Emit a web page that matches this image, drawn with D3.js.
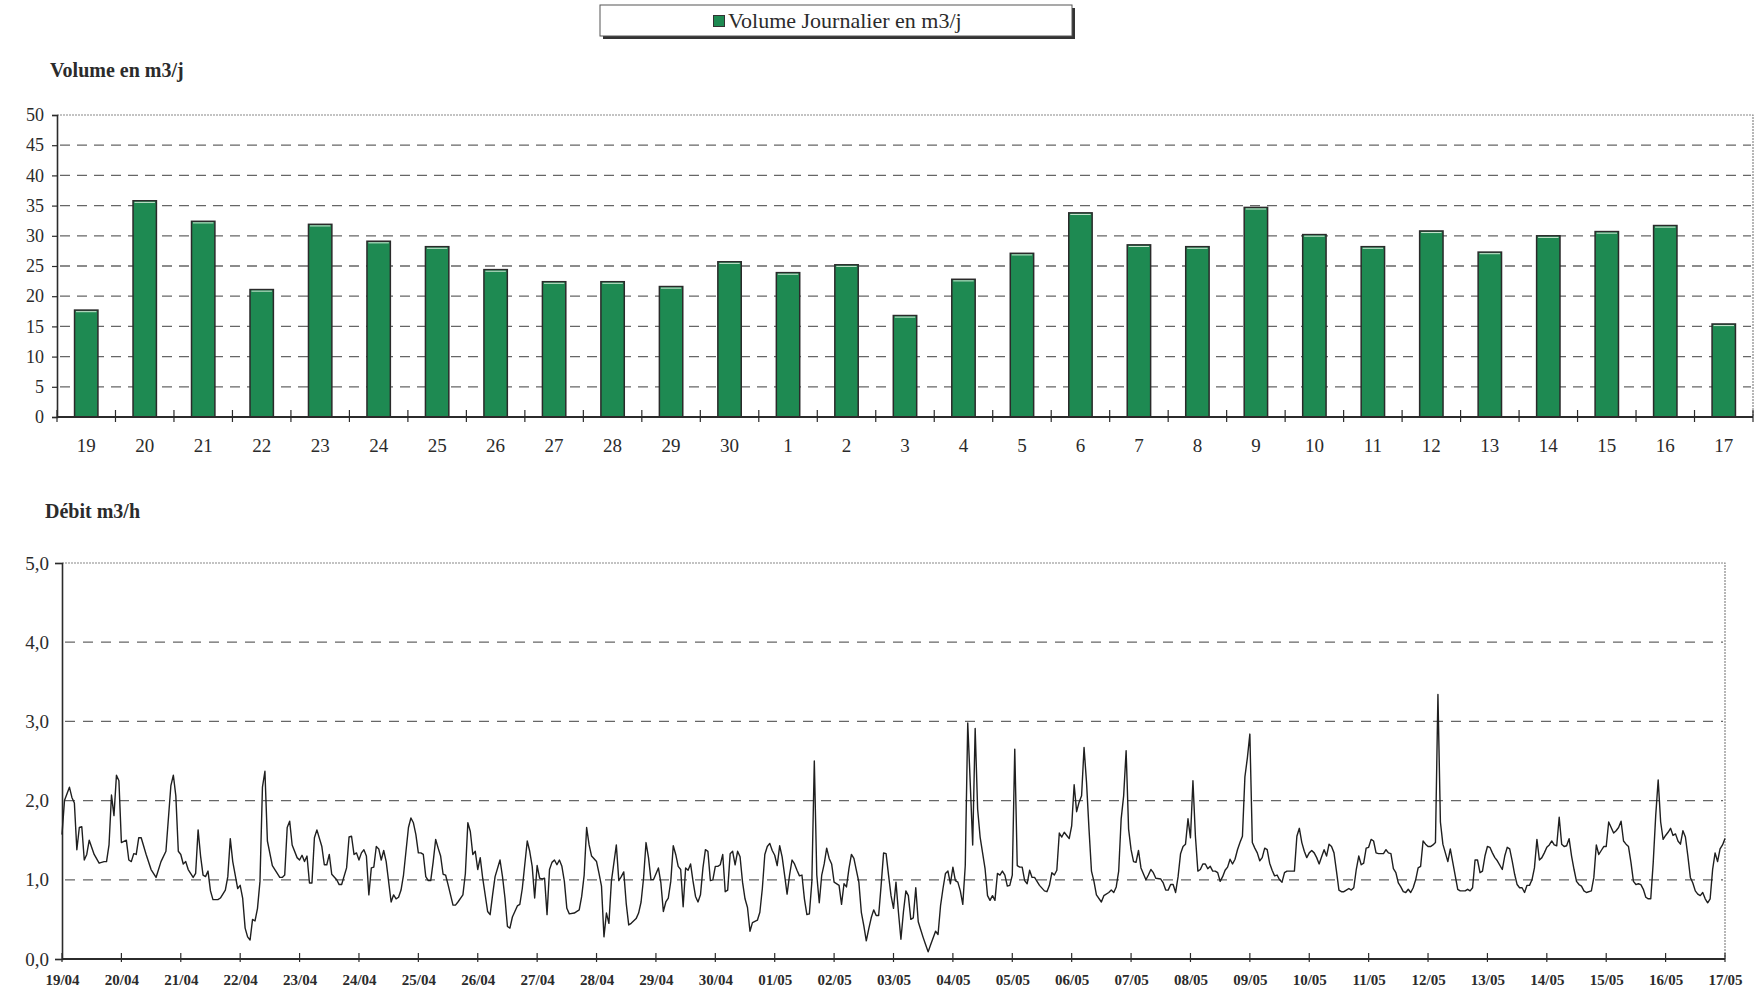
<!DOCTYPE html>
<html>
<head>
<meta charset="utf-8">
<script src="https://cdn.jsdelivr.net/npm/d3@7"></script>
<style>
  html, body { margin: 0; padding: 0; background: #fff; }
  svg { display: block; }
</style>
</head>
<body>
<svg id="chart" width="1761" height="989"></svg>
<script>
// ---- Daily volume (m3/j), 19 April to 17 May ----
const dayLabels = ["19","20","21","22","23","24","25","26","27","28","29","30",
  "1","2","3","4","5","6","7","8","9","10","11","12","13","14","15","16","17"];
const dailyVolume = [17.7, 35.8, 32.4, 21.1, 31.9, 29.1, 28.2, 24.4, 22.4, 22.4, 21.6, 25.7,
  23.9, 25.2, 16.8, 22.8, 27.1, 33.8, 28.5, 28.2, 34.7, 30.2, 28.2, 30.8, 27.3, 30.0, 30.7, 31.7, 15.4];
const volumeTicks = [0, 5, 10, 15, 20, 25, 30, 35, 40, 45, 50];

// ---- Hourly flow (m3/h): [hours since 19/04 00:00, flow] ----
const dateLabels = ["19/04","20/04","21/04","22/04","23/04","24/04","25/04","26/04","27/04","28/04",
  "29/04","30/04","01/05","02/05","03/05","04/05","05/05","06/05","07/05","08/05","09/05","10/05",
  "11/05","12/05","13/05","14/05","15/05","16/05","17/05"];
const flowTicks = [0, 1, 2, 3, 4, 5];
const flowReadings = [
  [0,1.57],[1,2.0],[3,2.17],[4,2.04],[5,1.97],[6,1.38],[7,1.66],[8,1.67],[9,1.25],[10,1.32],[11,1.5],[13,1.32],[15,1.21],[17,1.23],[18,1.23],[19,1.44],[20,2.07],[21,1.81],[22,2.32],[23,2.25],
  [24,1.47],[26,1.5],[27,1.25],[28,1.23],[29,1.33],[30,1.32],[31,1.53],[32,1.53],[34,1.32],[36,1.13],[38,1.03],[40,1.23],[42,1.36],[44,2.19],[45,2.32],[46,2.06],[47,1.36],
  [48,1.32],[49,1.2],[50,1.23],[51,1.13],[53,1.03],[54,1.08],[55,1.63],[56,1.3],[57,1.06],[58,1.04],[59,1.11],[60,0.86],[61,0.75],[63,0.75],[64,0.77],[66,0.87],[67,1.04],[68,1.52],[69,1.23],[71,0.89],
  [72,0.93],[73,0.77],[74,0.39],[75,0.28],[76,0.24],[77,0.5],[78,0.48],[79,0.64],[80,0.98],[81,2.17],[82,2.37],[83,1.49],[85,1.18],[88,1.03],[89,1.03],[90,1.06],[91,1.66],[92,1.74],[93,1.44],[95,1.28],
  [96,1.25],[97,1.31],[98,1.23],[99,1.3],[100,0.96],[101,0.96],[102,1.53],[103,1.63],[105,1.42],[106,1.19],[107,1.19],[108,1.32],[109,1.07],[111,1.0],[112,0.94],[113,0.94],[115,1.15],[116,1.54],[117,1.55],[118,1.32],[119,1.34],
  [120,1.25],[121,1.34],[122,1.38],[123,1.3],[124,0.81],[125,1.15],[126,1.16],[127,1.42],[128,1.39],[129,1.25],[130,1.37],[131,1.23],[133,0.72],[134,0.81],[135,0.76],[136,0.78],[137,0.87],[138,1.06],[140,1.66],[141,1.78],[142,1.72],[143,1.57],
  [144,1.34],[145,1.34],[146,1.32],[147,1.04],[148,0.99],[149,0.99],[150,1.23],[151,1.51],[152,1.4],[153,1.3],[154,1.07],[155,1.06],[156,0.94],[158,0.68],[159,0.68],[160,0.72],[162,0.81],[163,1.08],[164,1.72],[165,1.61],[166,1.32],[167,1.36],
  [168,1.13],[169,1.28],[170,1.02],[172,0.6],[173,0.56],[174,0.81],[175,1.04],[177,1.25],[178,1.04],[179,0.77],[180,0.41],[181,0.39],[182,0.53],[184,0.67],[185,0.69],[186,0.89],[188,1.49],[189,1.36],[190,1.17],[191,0.77],
  [192,1.18],[193,1.02],[194,1.01],[195,1.02],[196,0.56],[197,1.13],[198,1.22],[199,1.25],[200,1.19],[201,1.25],[202,1.17],[203,0.98],[204,0.64],[205,0.57],[207,0.58],[209,0.62],[210,0.79],[211,1.06],[212,1.66],[213,1.44],[214,1.3],
  [216,1.23],[217,1.08],[218,0.92],[219,0.28],[220,0.58],[221,0.45],[222,0.98],[224,1.44],[225,0.99],[226,1.04],[227,1.1],[228,0.7],[229,0.43],[230,0.45],[232,0.51],[233,0.58],[234,0.72],[235,1.02],[236,1.47],[237,1.28],[238,1.0],[239,1.0],
  [241,1.15],[242,0.96],[243,0.6],[244,0.72],[245,0.77],[246,0.98],[247,1.43],[248,1.32],[249,1.17],[250,1.13],[251,0.66],[252,1.15],[253,1.12],[254,1.2],[255,0.98],[256,0.79],[257,0.72],[258,0.81],[259,1.15],[260,1.38],[261,1.36],[262,0.99],[263,1.0],
  [264,1.17],[265,1.17],[266,1.19],[267,1.32],[268,0.85],[269,0.87],[270,1.33],[271,1.36],[272,1.19],[273,1.36],[274,1.29],[275,0.97],[276,0.76],[277,0.65],[278,0.35],[279,0.46],[281,0.49],[282,0.59],[283,0.89],[284,1.32],[285,1.42],[286,1.46],[287,1.37],
  [288,1.31],[289,1.18],[290,1.43],[291,1.29],[292,1.06],[293,0.82],[294,1.06],[295,1.25],[296,1.2],[297,1.12],[298,1.05],[299,1.06],[300,0.76],[301,0.56],[302,0.57],[303,0.97],[304,2.5],[305,1.06],[306,0.71],[307,1.06],[308,1.2],[309,1.4],[310,1.27],[311,1.2],
  [312,0.97],[314,0.93],[315,0.69],[316,0.95],[317,0.91],[318,1.14],[319,1.32],[320,1.27],[321,1.12],[322,0.97],[323,0.59],[324,0.42],[325,0.23],[326,0.38],[327,0.52],[328,0.62],[329,0.55],[330,0.55],[331,0.93],[332,1.34],[333,1.33],[334,1.06],[335,0.8],
  [336,0.64],[337,0.97],[338,0.59],[339,0.25],[340,0.59],[341,0.86],[342,0.8],[343,0.5],[344,0.52],[345,0.9],[346,0.47],[347,0.37],[348,0.27],[349,0.18],[350,0.09],[351,0.18],[353,0.35],[354,0.31],[355,0.67],[356,0.89],[357,1.08],[358,1.11],[359,0.95],
  [360,1.16],[361,0.99],[362,0.97],[363,0.86],[364,0.69],[365,1.18],[366,2.98],[367,2.23],[368,1.44],[369,2.91],[370,1.89],[371,1.54],[373,1.14],[374,0.8],[375,0.74],[376,0.8],[377,0.74],[378,1.08],[379,1.06],[380,1.11],[381,1.06],[382,0.92],[383,0.93],
  [384,1.06],[385,2.65],[386,1.18],[387,1.16],[388,1.16],[389,0.99],[390,0.95],[391,1.12],[392,1.03],[393,1.03],[395,0.93],[397,0.86],[398,0.85],[399,0.93],[400,1.09],[401,1.06],[402,1.12],[403,1.59],[404,1.54],[405,1.6],[406,1.56],[407,1.52],
  [408,1.68],[409,2.2],[410,1.86],[411,1.98],[412,2.06],[413,2.67],[414,2.23],[415,1.64],[416,1.11],[417,0.98],[418,0.81],[420,0.72],[421,0.8],[423,0.84],[424,0.87],[425,0.84],[426,0.91],[427,1.11],[428,1.77],[429,2.06],[430,2.63],[431,1.64],
  [432,1.38],[433,1.23],[434,1.22],[435,1.37],[436,1.15],[438,1.0],[439,1.06],[440,1.13],[441,1.09],[442,1.02],[444,1.01],[445,0.96],[446,0.87],[447,0.87],[448,0.94],[449,0.94],[450,0.84],[451,1.04],[452,1.33],[453,1.42],[454,1.45],[455,1.77],
  [456,1.53],[457,2.25],[458,1.55],[459,1.11],[460,1.13],[461,1.2],[462,1.2],[463,1.14],[464,1.17],[465,1.11],[466,1.11],[467,1.09],[468,0.98],[469,1.04],[470,1.12],[471,1.16],[472,1.26],[473,1.2],[474,1.26],[475,1.38],[476,1.47],[477,1.55],[478,2.3],[479,2.54],
  [480,2.84],[481,1.47],[482,1.4],[483,1.34],[484,1.24],[485,1.28],[486,1.4],[487,1.38],[488,1.21],[489,1.12],[490,1.05],[491,1.06],[492,1.0],[493,0.97],[494,1.09],[495,1.11],[496,1.11],[497,1.11],[498,1.11],[499,1.55],[500,1.65],[501,1.47],[502,1.36],[503,1.28],
  [504,1.34],[505,1.37],[506,1.34],[507,1.28],[508,1.2],[509,1.29],[510,1.38],[511,1.3],[512,1.45],[513,1.42],[514,1.34],[515,1.11],[516,0.87],[517,0.85],[518,0.85],[519,0.87],[520,0.89],[521,0.87],[522,0.9],[523,1.13],[524,1.3],[525,1.19],[526,1.21],[527,1.4],
  [528,1.41],[529,1.51],[530,1.49],[531,1.34],[532,1.33],[534,1.33],[535,1.38],[536,1.34],[537,1.33],[538,1.14],[539,1.09],[540,0.96],[541,0.91],[542,0.85],[543,0.84],[544,0.88],[545,0.84],[546,0.9],[547,1.0],[548,1.15],[549,1.17],[550,1.49],[551,1.45],
  [552,1.42],[553,1.42],[554,1.44],[555,1.47],[556,3.34],[557,1.73],[558,1.45],[559,1.34],[560,1.23],[561,1.39],[562,1.22],[563,1.05],[564,0.88],[565,0.86],[566,0.86],[567,0.86],[568,0.88],[569,0.86],[570,0.9],[571,1.25],[572,1.25],[573,1.09],[574,1.11],[575,1.3],
  [576,1.42],[577,1.41],[578,1.34],[579,1.28],[580,1.24],[582,1.13],[583,1.3],[584,1.41],[585,1.39],[586,1.24],[587,1.07],[588,0.94],[589,0.9],[590,0.9],[591,0.84],[592,0.93],[593,0.93],[594,1.0],[595,1.15],[596,1.51],[597,1.25],[598,1.28],[599,1.34],
  [600,1.41],[601,1.44],[602,1.49],[603,1.44],[604,1.43],[605,1.79],[606,1.45],[607,1.42],[608,1.43],[609,1.52],[610,1.3],[611,1.13],[612,0.98],[613,0.94],[614,0.92],[615,0.86],[616,0.84],[618,0.86],[619,1.03],[620,1.44],[621,1.32],[622,1.37],[623,1.42],
  [624,1.42],[625,1.73],[627,1.59],[628,1.62],[629,1.66],[630,1.74],[631,1.49],[632,1.45],[633,1.42],[634,1.22],[635,0.98],[636,0.94],[637,0.95],[638,0.94],[639,0.88],[640,0.78],[641,0.76],[642,0.76],[643,1.22],[644,1.81],[645,2.26],[646,1.73],[647,1.51],
  [648,1.56],[649,1.6],[650,1.65],[651,1.56],[652,1.58],[653,1.49],[654,1.45],[655,1.62],[656,1.54],[657,1.3],[658,1.03],[659,0.96],[660,0.86],[661,0.82],[662,0.8],[663,0.84],[664,0.76],[665,0.71],[666,0.76],[667,1.13],[668,1.34],[669,1.23],[670,1.39],[671,1.44],[672,1.52]
];

const FONT = "'Liberation Serif', 'Times New Roman', serif";
const INK = "#2b2b2b";
const BAR_GREEN = "#1e8a52";
const svg = d3.select("#chart");
svg.append("rect").attr("width", 1761).attr("height", 989).attr("fill", "#fff");

// ---------- Legend ----------
const legend = svg.append("g");
legend.append("rect").attr("x", 603).attr("y", 8).attr("width", 472).attr("height", 31).attr("fill", "#333");
legend.append("rect").attr("x", 600).attr("y", 5).attr("width", 472).attr("height", 31)
  .attr("fill", "#fff").attr("stroke", "#555").attr("stroke-width", 1);
legend.append("rect").attr("x", 713.5).attr("y", 15.5).attr("width", 11).attr("height", 11)
  .attr("fill", BAR_GREEN).attr("stroke", "#333").attr("stroke-width", 1);
legend.append("text").attr("x", 728).attr("y", 28).attr("font-family", FONT).attr("font-size", 22)
  .attr("fill", INK).text("Volume Journalier en m3/j");

// ---------- Daily volume bar chart ----------
const vb = { left: 57, right: 1753, top: 115, bottom: 417 };
const xBand = d3.scaleBand().domain(d3.range(dayLabels.length))
  .range([vb.left, vb.right]).paddingInner(0.6).paddingOuter(0.3);
const yVol = d3.scaleLinear().domain([0, 50]).range([vb.bottom, vb.top]);

svg.append("text").attr("x", 50).attr("y", 77).attr("font-family", FONT).attr("font-weight", "bold")
  .attr("font-size", 20).attr("fill", INK).text("Volume en m3/j");

// frame (top and right edges)
svg.append("path")
  .attr("d", `M${vb.left},${vb.top}H${vb.right}V${vb.bottom}`)
  .attr("fill", "none").attr("stroke", "#888").attr("stroke-width", 1.2).attr("stroke-dasharray", "2,1");

// dashed gridlines
svg.append("g").selectAll("line").data(volumeTicks.filter(t => t > 0 && t < 50)).join("line")
  .attr("x1", vb.left + 3).attr("x2", vb.right - 2)
  .attr("y1", d => yVol(d)).attr("y2", d => yVol(d))
  .attr("stroke", "#666").attr("stroke-width", 1.3).attr("stroke-dasharray", "10,7");

// bars
const bars = svg.append("g").selectAll("g").data(dailyVolume).join("g");
bars.append("rect")
  .attr("x", (d, i) => xBand(i)).attr("width", xBand.bandwidth())
  .attr("y", d => yVol(d)).attr("height", d => yVol(0) - yVol(d))
  .attr("fill", BAR_GREEN).attr("stroke", "#2a2a2a").attr("stroke-width", 1.5);
bars.append("line")
  .attr("x1", (d, i) => xBand(i) + 1.5).attr("x2", (d, i) => xBand(i) + xBand.bandwidth() - 1.5)
  .attr("y1", d => yVol(d) + 1.6).attr("y2", d => yVol(d) + 1.6)
  .attr("stroke", "#cfe8d4").attr("stroke-width", 1);

// y axis
const yAxisV = svg.append("g").attr("transform", `translate(${vb.left},0)`)
  .call(d3.axisLeft(yVol).tickValues(volumeTicks).tickSize(5).tickPadding(8).tickFormat(d3.format("d")));
yAxisV.select(".domain").attr("stroke", INK).attr("stroke-width", 1.6);
yAxisV.selectAll(".tick line").attr("stroke", INK).attr("stroke-width", 1.2);
yAxisV.selectAll("text").attr("font-family", FONT).attr("font-size", 18).attr("fill", INK);

// x axis: labels under bars, ticks on category boundaries
const xAxisV = svg.append("g").attr("transform", `translate(0,${vb.bottom})`)
  .call(d3.axisBottom(xBand).tickSize(0).tickPadding(22).tickFormat(i => dayLabels[i]));
xAxisV.select(".domain").remove();
xAxisV.selectAll("text").attr("font-family", FONT).attr("font-size", 19).attr("fill", INK)
  .attr("transform", `translate(${-xBand.step() * 0.0},0)`);
svg.append("line").attr("x1", vb.left).attr("x2", vb.right).attr("y1", vb.bottom).attr("y2", vb.bottom)
  .attr("stroke", INK).attr("stroke-width", 1.8);
svg.append("g").selectAll("line").data(d3.range(dayLabels.length + 1)).join("line")
  .attr("x1", i => xBand.range()[0] + i * xBand.step()).attr("x2", i => xBand.range()[0] + i * xBand.step())
  .attr("y1", vb.bottom - 7).attr("y2", vb.bottom + 5)
  .attr("stroke", INK).attr("stroke-width", 1.2);

// ---------- Hourly flow line chart ----------
const fb = { left: 62, right: 1725, top: 563, bottom: 959 };
const xHour = d3.scaleLinear().domain([0, 24 * (dateLabels.length - 1)]).range([fb.left, fb.right]);
const yFlow = d3.scaleLinear().domain([0, 5]).range([fb.bottom, fb.top]);
const commaFmt = d3.formatLocale({ decimal: ",", thousands: " ", grouping: [3], currency: ["", " €"] }).format(".1f");

svg.append("text").attr("x", 45).attr("y", 518).attr("font-family", FONT).attr("font-weight", "bold")
  .attr("font-size", 20).attr("fill", INK).text("Débit m3/h");

svg.append("path")
  .attr("d", `M${fb.left},${fb.top}H${fb.right}V${fb.bottom}`)
  .attr("fill", "none").attr("stroke", "#888").attr("stroke-width", 1.2).attr("stroke-dasharray", "2,1");

svg.append("g").selectAll("line").data(flowTicks.filter(t => t > 0 && t < 5)).join("line")
  .attr("x1", fb.left + 3).attr("x2", fb.right - 2)
  .attr("y1", d => yFlow(d)).attr("y2", d => yFlow(d))
  .attr("stroke", "#666").attr("stroke-width", 1.3).attr("stroke-dasharray", "10,8");

const yAxisF = svg.append("g").attr("transform", `translate(${fb.left},0)`)
  .call(d3.axisLeft(yFlow).tickValues(flowTicks).tickSize(7).tickPadding(6).tickFormat(commaFmt));
yAxisF.select(".domain").attr("stroke", INK).attr("stroke-width", 1.6);
yAxisF.selectAll(".tick line").attr("stroke", INK).attr("stroke-width", 1.2)
  .attr("x2", (d) => (d === 0 || d === 5) ? -7 : 0);
yAxisF.selectAll("text").attr("font-family", FONT).attr("font-size", 19).attr("fill", INK);

const dayTicks = d3.range(dateLabels.length).map(i => i * 24);
const xAxisF = svg.append("g").attr("transform", `translate(0,${fb.bottom})`)
  .call(d3.axisBottom(xHour).tickValues(dayTicks).tickSize(0).tickPadding(15)
    .tickFormat(h => dateLabels[h / 24]));
xAxisF.select(".domain").remove();
xAxisF.selectAll("text").attr("font-family", FONT).attr("font-weight", "bold").attr("font-size", 15).attr("fill", INK);
svg.append("line").attr("x1", fb.left).attr("x2", fb.right).attr("y1", fb.bottom).attr("y2", fb.bottom)
  .attr("stroke", INK).attr("stroke-width", 1.8);
svg.append("g").selectAll("line").data(dayTicks).join("line")
  .attr("x1", d => xHour(d)).attr("x2", d => xHour(d))
  .attr("y1", fb.bottom - 6).attr("y2", fb.bottom + 3)
  .attr("stroke", INK).attr("stroke-width", 1.2);

const flowLine = d3.line().x(d => xHour(d[0])).y(d => yFlow(d[1]));
svg.append("path").datum(flowReadings).attr("d", flowLine)
  .attr("fill", "none").attr("stroke", "#1f1f1f").attr("stroke-width", 1.4).attr("stroke-linejoin", "round");
</script>
</body>
</html>
